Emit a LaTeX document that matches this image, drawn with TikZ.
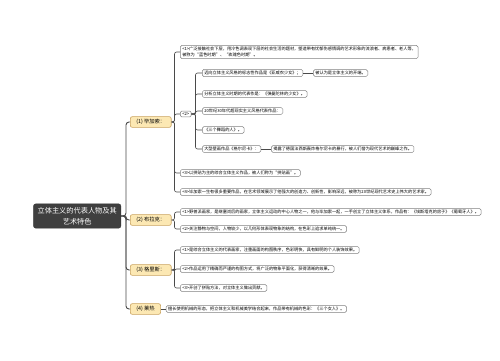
\documentclass[tikz,border=0pt]{standalone}
\usepackage{fontspec}
\setmainfont{Noto Sans CJK SC}
\usetikzlibrary{positioning}

\definecolor{rootgray}{HTML}{3F3F3F}
\definecolor{topicfill}{HTML}{FCE8B3}
\definecolor{topicline}{HTML}{C9A25E}
\definecolor{leafline}{HTML}{808080}
\definecolor{linkgray}{HTML}{4A4A4A}

\tikzset{
  rootbox/.style={fill=rootgray, draw=rootgray!80!black, rounded corners=2pt, text=white,
    font=\fontsize{7.2}{10.5}\selectfont, align=center, inner xsep=4pt, inner ysep=3.5pt},
  topicbox/.style={fill=topicfill, draw=topicline, rounded corners=2pt, line width=0.6pt,
    font=\fontsize{5.3}{6.4}\selectfont, inner xsep=6pt, inner ysep=2.6pt, anchor=west},
  leafbox/.style={fill=white, draw=leafline, rounded corners=1.5pt, line width=0.5pt,
    font=\fontsize{4.2}{6.4}\selectfont, inner xsep=2pt, inner ysep=1.4pt, anchor=west, align=left},
  link/.style={draw=linkgray, line width=0.6pt, rounded corners=2pt},
  trunk/.style={link, line width=0.9pt, rounded corners=3pt}
}

\begin{document}
\begin{tikzpicture}[x=1pt, y=-1pt]
  \fill[white] (0,0) rectangle (500,360);
  \useasboundingbox (0,0) rectangle (500,360);

  % root and main topics
  \node[rootbox, anchor=east] (root) at (121,216) {立体主义的代表人物及其\\艺术特色};
  \node[topicbox] (pic) at (130,122) {(1)\ 毕加索：};
  \node[topicbox] (bra) at (130,220) {(2)\ 布拉克：};
  \node[topicbox] (gri) at (130,270) {(3)\ 格里斯：};
  \node[topicbox] (leg) at (130,309) {(4)\ 莱热};

  % (1) picasso
  \node[leafbox] (pic1) at (180,52) {<1>广泛接触社会下层，用冷色调表现下层的社会生活的题材，塑造带有忧郁伤感情调的艺术形象的流浪者、病患者、老人等，\\被称为“蓝色时期”、“玫瑰色时期”。};
  \node[leafbox] (pic2) at (180,114) {<2>};
  \node[leafbox] (pic3) at (180,173) {<3>以拼贴为主的综合立体主义作品，被人们称为“拼贴画”。};
  \node[leafbox] (pic4) at (180,192) {<4>毕加索一生有很多重要作品，在艺术领域展示了他强大的创造力、创新性，影响深远，被称为20世纪现代艺术史上伟大的艺术家。};

  \node[leafbox] (work1) at (202,73) {迈向立体主义风格的标志性作品是《亚威农少女》；};
  \node[leafbox, right=10pt of work1] (work1n) {被认为是立体主义的开端。};
  \node[leafbox] (work2) at (202,94) {分析立体主义时期的代表作是：《弹曼陀林的少女》。};
  \node[leafbox] (work3) at (202,111) {20世纪30年代超现实主义风格代表作品：};
  \node[leafbox] (work4) at (202,130) {《三个舞蹈的人》。};
  \node[leafbox] (work5) at (202,149) {大型壁画作品《格尔尼卡》：};
  \node[leafbox, right=10pt of work5] (work5n) {揭露了德国法西斯轰炸格尔尼卡的暴行，被人们誉为现代艺术的巅峰之作。};

  % (2) braque
  \node[leafbox] (bra1) at (180,212) {<1>野兽派画家，是继塞尚后的画家，立体主义运动的中心人物之一，他与毕加索一起，一手创立了立体主义体系，作品有：《埃斯塔克的房子》《葡萄牙人》。};
  \node[leafbox] (bra2) at (180,229) {<2>关注静物与空间，人物较少，以几何形体表现物象的结构，在色彩上追求单纯统一。};

  % (3) gris
  \node[leafbox] (gri1) at (180,250) {<1>是综合立体主义的代表画家，注重画面的构图秩序，色彩明快，具有鲜明的个人装饰效果。};
  \node[leafbox] (gri2) at (180,269) {<2>作品运用了精确而严谨的构图方式，将广泛的物象平面化，获得清晰的效果。};
  \node[leafbox] (gri3) at (180,288) {<3>开创了拼贴方法，对立体主义做出贡献。};

  % (4) leger
  \node[leafbox, right=5pt of leg] (leg1) {擅长使用机械的形态，把立体主义和机械美学结合起来，作品带有机械的色彩：《三个女人》。};

  % connectors
  \foreach \t in {pic,bra,gri,leg}
    \draw[trunk] (root.east) -- ++(5,0) |- (\t.west);
  \foreach \l in {pic1,pic2,pic3,pic4}
    \draw[link] (pic.east) -- ++(3,0) |- (\l.west);
  \foreach \l in {work1,work2,work3,work4,work5}
    \draw[link] (pic2.east) -- ++(4,0) |- (\l.west);
  \foreach \l in {bra1,bra2}
    \draw[link] (bra.east) -- ++(3,0) |- (\l.west);
  \foreach \l in {gri1,gri2,gri3}
    \draw[link] (gri.east) -- ++(3,0) |- (\l.west);
  \draw[link] (leg.east) -- (leg1.west);
  \draw[link] (work1.east) -- (work1n.west);
  \draw[link] (work5.east) -- (work5n.west);
\end{tikzpicture}
\end{document}
